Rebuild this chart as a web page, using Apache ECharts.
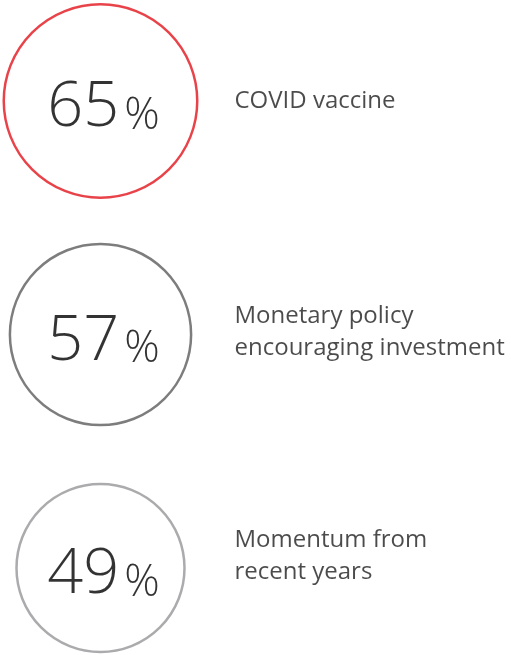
<!DOCTYPE html>
<html>
<head>
<meta charset="utf-8">
<script src="https://cdn.jsdelivr.net/npm/echarts@6/dist/echarts.min.js"></script>
<style>
  html, body { margin: 0; padding: 0; background: #fff; }
  #chart { width: 511px; height: 655px; }
</style>
</head>
<body>
<div id="chart"></div>
<script>
// 数据
const labels = ['COVID vaccine', 'Monetary policy\nencouraging investment', 'Momentum from\nrecent years'];
const shares = [65, 57, 49];

// 样式
const ringColors = ['#e3141d', '#5c5c5e', '#969698'];
const textNudge = [0, -2, -12];
const fontFam = '"Open Sans", "Noto Sans", sans-serif';

// 纵轴范围：第一个圆心在 101px，行距约 233.5px
const rowGap = 233.5;
const yMin = -101 / rowGap;
const yMax = yMin + 655 / rowGap;

const chart = echarts.init(document.getElementById('chart'));

const option = {
  animation: false,
  grid: { left: 0, width: 201, top: 0, bottom: 0 },
  xAxis: { type: 'category', data: [''], show: false },
  yAxis: { type: 'value', inverse: true, min: yMin, max: yMax, show: false },
  series: [
    {
      // 圆圈，面积与百分比成正比
      type: 'scatter',
      symbol: 'circle',
      symbolSize: (val) => 24 * Math.sqrt(val[2]),
      data: shares.map((v, i) => ({
        value: [0, i, v],
        itemStyle: { color: '#fff', borderColor: ringColors[i], borderWidth: 2.5 }
      })),
      label: {
        show: true,
        position: 'inside',
        offset: [3, 4],
        formatter: (p) => '{n|' + p.value[2] + '}{p|%}',
        rich: {
          n: { fontSize: 63, fontWeight: 300, fontFamily: fontFam, color: '#000', lineHeight: 70, verticalAlign: 'bottom' },
          p: { fontSize: 44, fontWeight: 300, fontFamily: fontFam, color: '#000', lineHeight: 70, verticalAlign: 'bottom', padding: [0, 0, 2, 5] }
        }
      },
      emphasis: { disabled: true }
    },
    {
      // 右侧说明文字
      type: 'scatter',
      symbolSize: 0,
      data: shares.map((v, i) => ({
        value: [0, i, v],
        label: { offset: [0, textNudge[i]] }
      })),
      label: {
        show: true,
        position: 'right',
        distance: 134,
        align: 'left',
        formatter: (p) => labels[p.dataIndex],
        fontSize: 24,
        lineHeight: 32,
        fontFamily: fontFam,
        color: '#1e1e1e'
      },
      emphasis: { disabled: true }
    }
  ]
};

chart.setOption(option);
window.addEventListener('resize', () => chart.resize());
</script>
</body>
</html>
